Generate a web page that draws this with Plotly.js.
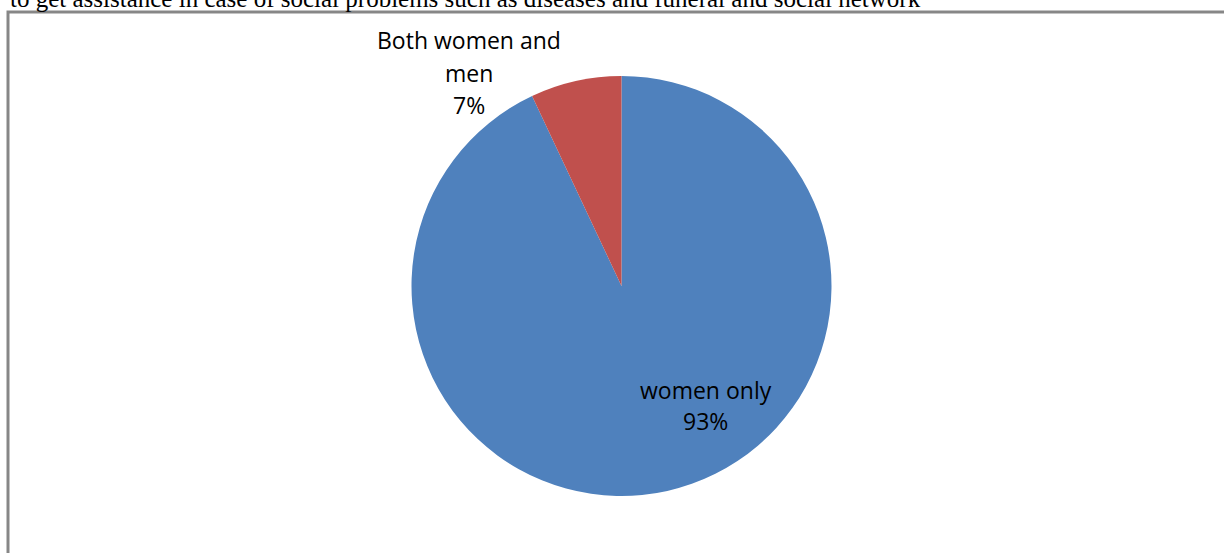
<!DOCTYPE html>
<html>
<head>
<meta charset="utf-8">
<script src="https://cdn.plot.ly/plotly-3.0.1.min.js"></script>
<style>html,body{margin:0;padding:0;background:#fff;}#chart{width:1224px;height:553px;}</style>
</head>
<body>
<div id="chart"></div>
<script>
const categories = ['women only', 'Both women and men'];
const values = [93, 7];
const colors = ['#4F81BD', '#C0504D'];
const headerText = 'to get assistance in case of social problems such as diseases and funeral and social network';

const W = 1224, H = 553;
const px = x => x / W;
const py = y => 1 - y / H;

const trace = {
  type: 'pie',
  labels: categories,
  values: values,
  sort: false,
  direction: 'clockwise',
  rotation: 0,
  marker: {colors: colors, line: {width: 0}},
  textinfo: 'none',
  hoverinfo: 'label+percent',
  showlegend: false,
  domain: {x: [px(411), px(832)], y: [py(496), py(76)]}
};

const total = values.reduce((a, b) => a + b, 0);
const pct = v => Math.round(v / total * 100) + '%';
const lblFont = {family: 'Open Sans, Liberation Sans, sans-serif', size: 23, color: '#000'};

const annotations = [
  {text: headerText, x: px(8), y: py(14), xref: 'paper', yref: 'paper', xanchor: 'left', yanchor: 'bottom',
   showarrow: false, font: {family: 'Liberation Serif, Times New Roman, serif', size: 25, color: '#000'}},
  {text: 'Both women and', x: px(469), y: py(40), xref: 'paper', yref: 'paper', xanchor: 'center', yanchor: 'middle', showarrow: false, font: lblFont},
  {text: 'men', x: px(469), y: py(73), xref: 'paper', yref: 'paper', xanchor: 'center', yanchor: 'middle', showarrow: false, font: lblFont},
  {text: pct(values[1]), x: px(469), y: py(105), xref: 'paper', yref: 'paper', xanchor: 'center', yanchor: 'middle', showarrow: false, font: lblFont},
  {text: categories[0], x: px(706), y: py(390), xref: 'paper', yref: 'paper', xanchor: 'center', yanchor: 'middle', showarrow: false, font: lblFont},
  {text: pct(values[0]), x: px(706), y: py(421), xref: 'paper', yref: 'paper', xanchor: 'center', yanchor: 'middle', showarrow: false, font: lblFont}
];

const layout = {
  width: W, height: H,
  margin: {l: 0, r: 0, t: 0, b: 0},
  paper_bgcolor: '#fff',
  plot_bgcolor: '#fff',
  annotations: annotations,
  shapes: [
    {type: 'rect', xref: 'paper', yref: 'paper', x0: px(8), x1: px(1240), y0: py(570), y1: py(12),
     line: {color: '#878787', width: 3}, fillcolor: 'rgba(0,0,0,0)'}
  ]
};

Plotly.newPlot('chart', [trace], layout, {displayModeBar: false, staticPlot: true});
</script>
</body>
</html>
